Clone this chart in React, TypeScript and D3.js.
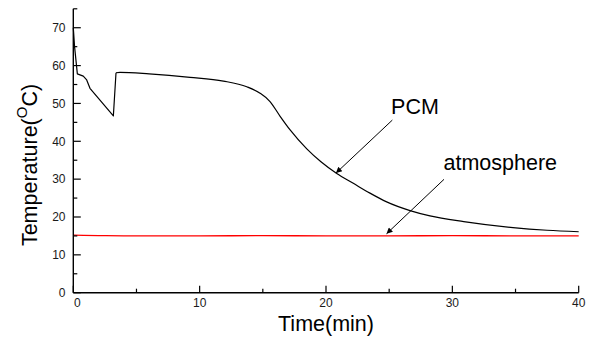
import React from "react";
import * as d3 from "d3";

const pcmTime = [0, 0.1, 0.32, 0.79, 1.06, 1.32, 3.17, 3.38, 3.7, 6, 9.24, 11.88, 13.73, 14.78, 15.57, 16.37, 17.16, 18.48, 19.6, 20.85, 22.16, 23.48, 24.8, 26.65, 28.23, 30.9, 34.8, 37.5, 40];
const pcmTemp = [70, 65, 57.8, 57.2, 56.2, 54.0, 46.7, 58.1, 58.2, 57.8, 56.9, 55.9, 54.4, 52.7, 50.5, 46.6, 43.0, 38.0, 34.6, 31.5, 28.9, 26.3, 24.0, 21.7, 20.3, 18.8, 17.2, 16.5, 16.1];
const atmTime = [0, 2, 5, 10, 15, 20, 25, 30, 35, 40];
const atmTemp = [15.2, 15.1, 15.0, 15.0, 15.1, 15.0, 15.0, 15.1, 15.0, 15.0];

const xMajor = [0, 10, 20, 30, 40];
const xMinor = [5, 15, 25, 35];
const yMajor = [0, 10, 20, 30, 40, 50, 60, 70];
const yMinor = [5, 15, 25, 35, 45, 55, 65, 75];

const annotations = [
  { label: "PCM", tx: 25.15, tv: 47.2, x1: 25.25, v1: 45.6, x2: 20.79, v2: 31.6 },
  { label: "atmosphere", tx: 29.3, tv: 32.5, x1: 29.34, v1: 29.95, x2: 24.79, v2: 15.56 },
];

const FONT = "'Liberation Sans', Arial, sans-serif";

export default function App() {
  const x = d3.scaleLinear().domain([0, 40]).range([73.3, 578.7]);
  const y = d3.scaleLinear().domain([0, 75]).range([292.7, 8.8]);

  const linear = d3
    .line<[number, number]>()
    .x((d) => x(d[0]))
    .y((d) => y(d[1]));
  const smooth = d3
    .line<[number, number]>()
    .x((d) => x(d[0]))
    .y((d) => y(d[1]))
    .curve(d3.curveMonotoneX);

  const pcm = pcmTime.map((t, i) => [t, pcmTemp[i]] as [number, number]);
  const pcmEarly = pcm.filter((d) => d[0] <= 3.38);
  const pcmLate = pcm.filter((d) => d[0] >= 3.38);
  const atm = atmTime.map((t, i) => [t, atmTemp[i]] as [number, number]);

  const x0 = x(0);
  const y0 = y(0);

  return (
    <svg
      width={595}
      height={338}
      style={{ position: "absolute", left: 0, top: 0, background: "#fff" }}
      fontFamily={FONT}
    >
      <defs>
        <marker id="ah" viewBox="0 0 10 10" refX="10" refY="5" markerWidth="10" markerHeight="6" markerUnits="userSpaceOnUse" orient="auto">
          <path d="M0,0 L10,5 L0,10 z" fill="#000" />
        </marker>
      </defs>

      {/* data lines */}
      <path d={smooth(atm) || ""} fill="none" stroke="#ff0000" strokeWidth={1.3} />
      <path d={linear(pcmEarly) || ""} fill="none" stroke="#000" strokeWidth={1.2} strokeLinejoin="round" />
      <path d={smooth(pcmLate) || ""} fill="none" stroke="#000" strokeWidth={1.2} strokeLinejoin="round" />

      {/* axes */}
      <line x1={x0} x2={x(40)} y1={y0} y2={y0} stroke="#000" strokeWidth={1.4} />
      <line x1={x0} x2={x0} y1={y0} y2={y(75)} stroke="#000" strokeWidth={1.4} />

      {xMajor.map((t) => (
        <line key={"xM" + t} x1={x(t)} x2={x(t)} y1={y0} y2={y0 - 7} stroke="#000" strokeWidth={1.2} />
      ))}
      {xMinor.map((t) => (
        <line key={"xm" + t} x1={x(t)} x2={x(t)} y1={y0} y2={y0 - 4} stroke="#000" strokeWidth={1.2} />
      ))}
      {yMajor.map((v) => (
        <line key={"yM" + v} x1={x0} x2={x0 + 7.5} y1={y(v)} y2={y(v)} stroke="#000" strokeWidth={1.2} />
      ))}
      {yMinor.map((v) => (
        <line key={"ym" + v} x1={x0} x2={x0 + 4} y1={y(v)} y2={y(v)} stroke="#000" strokeWidth={1.2} />
      ))}

      {xMajor.map((t, i) => (
        <text key={"xl" + t} x={x(t) + (i === 0 ? 4 : 0)} y={306.5} fontSize={12} textAnchor="middle" fill="#1a1a1a">
          {t}
        </text>
      ))}
      {yMajor.map((v) => (
        <text key={"yl" + v} x={65.5} y={y(v) + 4.3} fontSize={12} textAnchor="end" fill="#1a1a1a">
          {v}
        </text>
      ))}

      <text x={x(20)} y={331} fontSize={21.5} textAnchor="middle" fill="#000">
        Time(min)
      </text>
      <text transform="translate(36.5,165) rotate(-90)" fontSize={21.5} textAnchor="middle" fill="#000">
        Temperature(
        <tspan fontSize={15} dy={-10}>O</tspan>
        <tspan dy={10}>C)</tspan>
      </text>

      {annotations.map((a) => (
        <g key={a.label}>
          <text x={x(a.tx)} y={y(a.tv)} fontSize={21.5} fill="#000">
            {a.label}
          </text>
          <line x1={x(a.x1)} y1={y(a.v1)} x2={x(a.x2)} y2={y(a.v2)} stroke="#000" strokeWidth={1} markerEnd="url(#ah)" />
        </g>
      ))}
    </svg>
  );
}
